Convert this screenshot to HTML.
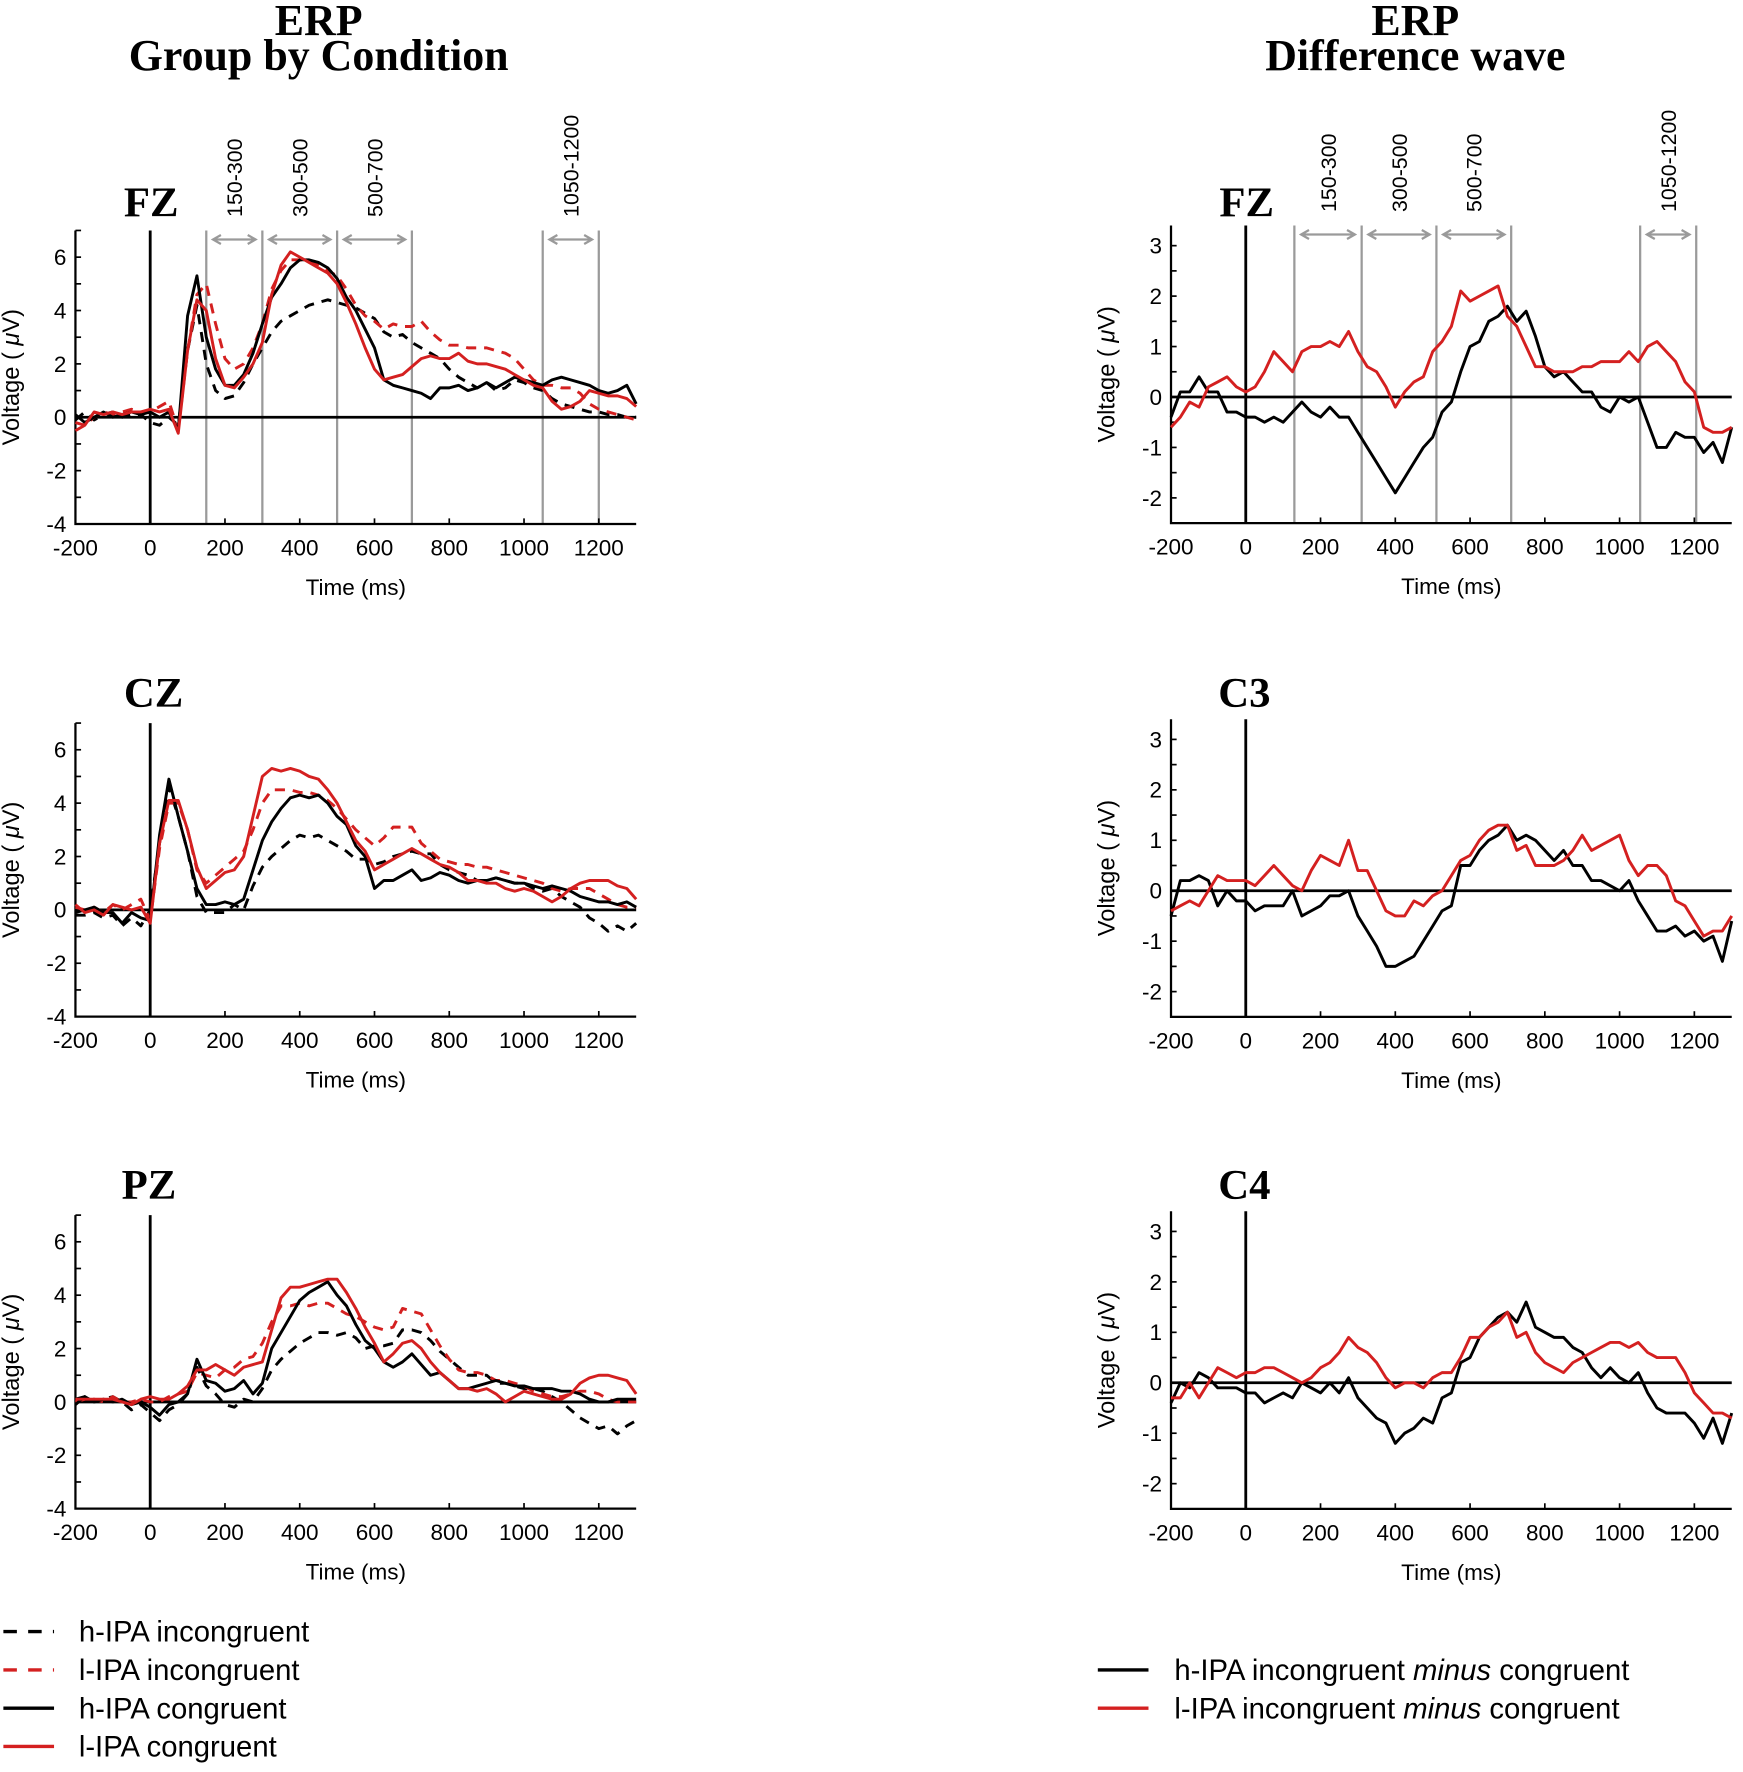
<!DOCTYPE html>
<html><head><meta charset="utf-8"><style>
html,body{margin:0;padding:0;background:#fff}
svg{display:block}
text{font-family:"Liberation Sans",sans-serif}
.serif{font-family:"Liberation Serif",serif;font-weight:bold}
</style></head><body>
<svg id="fig" width="1743" height="1772" viewBox="0 0 1548 1573.6" xmlns="http://www.w3.org/2000/svg">
<text class="serif" x="283" y="31" font-size="39" text-anchor="middle">ERP</text>
<text class="serif" x="283" y="62" font-size="39" text-anchor="middle">Group by Condition</text>
<text class="serif" x="1257" y="31" font-size="39" text-anchor="middle">ERP</text>
<text class="serif" x="1257" y="62" font-size="39" text-anchor="middle">Difference wave</text>
<g id="plots"></g>
<g>
<line x1="3" x2="48" y1="1449" y2="1449" stroke="#000" stroke-width="3" stroke-dasharray="12,10"/>
<text x="70" y="1458" font-size="26">h-IPA incongruent</text>
<line x1="3" x2="48" y1="1483" y2="1483" stroke="#d42020" stroke-width="3" stroke-dasharray="12,10"/>
<text x="70" y="1492" font-size="26">l-IPA incongruent</text>
<line x1="3" x2="48" y1="1517" y2="1517" stroke="#000" stroke-width="3"/>
<text x="70" y="1526" font-size="26">h-IPA congruent</text>
<line x1="3" x2="48" y1="1551" y2="1551" stroke="#d42020" stroke-width="3"/>
<text x="70" y="1560" font-size="26">l-IPA congruent</text>
</g>
<g>
<line x1="975" x2="1020" y1="1483" y2="1483" stroke="#000" stroke-width="3"/>
<text x="1043" y="1492" font-size="26">h-IPA incongruent <tspan font-style="italic">minus</tspan> congruent</text>
<line x1="975" x2="1020" y1="1517" y2="1517" stroke="#d42020" stroke-width="3"/>
<text x="1043" y="1526" font-size="26">l-IPA incongruent <tspan font-style="italic">minus</tspan> congruent</text>
</g>
</svg>
<script>
const T0 = -200, DT = 25;
const windows = ["150-300","300-500","500-700","1050-1200"];
const fzHInc=[-0.1,0.2,-0.1,0.1,0.2,0,0.1,0.1,-0.2,-0.3,0,-0.3,2.5,4.2,2,1,0.7,0.8,1.3,2,2.6,3.2,3.6,3.8,4,4.2,4.3,4.4,4.3,4.2,4.1,3.9,3.7,3.2,3,3.1,2.8,2.6,2.4,2.2,1.8,1.5,1.3,1.1,1.3,1.0,1.1,1.4,1.3,1.1,1.0,0.7,0.5,0.4,0.3,0.2,0.2,0.1,0.1,0,0];
const fzLInc=[-0.5,-0.3,0,0.2,0.1,0.2,0.3,0.2,0.2,0.4,0.6,-0.5,2.5,4.6,5,3.5,2.2,1.8,2,2.6,3.5,4.8,5.5,5.9,5.9,5.8,5.7,5.5,5.3,4.8,4.2,3.8,3.6,3.3,3.5,3.4,3.4,3.6,3.2,2.9,2.7,2.7,2.6,2.6,2.6,2.5,2.4,2.2,1.8,1.4,1.2,1.2,1.1,1.1,0.9,0.5,0.3,0.2,0.1,0,-0.1];
const fzHCon=[0.1,-0.2,0,0.2,0,0.1,0.2,0.1,0.2,0,0.2,-0.5,3.8,5.3,3,1.8,1.2,1.2,1.6,2.4,3.5,4.5,5.0,5.6,5.9,5.9,5.8,5.6,5.2,4.5,4.0,3.3,2.6,1.4,1.2,1.1,1.0,0.9,0.7,1.1,1.1,1.2,1.0,1.1,1.3,1.1,1.3,1.5,1.4,1.3,1.2,1.4,1.5,1.4,1.3,1.2,1.0,0.9,1.0,1.2,0.5];
const fzLCon=[-0.2,-0.3,0.2,0.1,0.2,0.1,0.2,0.2,0.3,0.2,0.3,-0.6,2.5,4.4,4,2.2,1.2,1.1,1.5,2.0,2.8,4.6,5.7,6.2,6.0,5.8,5.6,5.4,5.0,4.3,3.5,2.6,1.8,1.4,1.5,1.6,1.9,2.2,2.3,2.2,2.2,2.4,2.1,2.0,2.0,1.9,1.8,1.6,1.4,1.2,1.1,0.6,0.3,0.4,0.6,1.0,0.9,0.8,0.8,0.7,0.4];
const czHInc=[-0.2,-0.2,-0.1,-0.3,-0.2,-0.6,-0.3,-0.6,0,2.5,4.6,3.5,2.2,0.5,-0.1,-0.1,-0.1,0.2,0.0,0.9,1.6,2.0,2.3,2.6,2.8,2.7,2.8,2.6,2.4,2.2,1.9,1.9,1.7,1.8,2.0,2.1,2.2,2.1,2.1,1.7,1.5,1.4,1.3,1.1,1.1,1.2,1.1,1.0,1.0,0.8,0.7,0.8,0.5,0.3,0.1,-0.3,-0.5,-0.8,-0.6,-0.8,-0.5];
const czLInc=[0.1,0,0.1,-0.1,0.2,0,0.2,0.4,-0.4,2.3,4.0,4.0,3.0,1.5,1.0,1.3,1.6,1.9,2.2,3.0,4.0,4.5,4.5,4.5,4.4,4.4,4.3,4.1,3.8,3.4,3.0,2.7,2.4,2.7,3.1,3.1,3.1,2.5,2.2,1.9,1.8,1.7,1.7,1.6,1.6,1.5,1.4,1.3,1.2,1.1,1.0,0.8,0.7,0.8,0.8,0.8,0.6,0.4,0.2,0.1,0.1];
const czHCon=[-0.1,0,0.1,-0.1,-0.1,-0.5,-0.1,-0.3,-0.4,2.8,4.9,3.5,2.2,0.8,0.2,0.2,0.3,0.2,0.4,1.5,2.6,3.3,3.8,4.2,4.3,4.2,4.3,4.0,3.5,3.2,2.4,2.0,0.8,1.1,1.1,1.3,1.5,1.1,1.2,1.4,1.3,1.1,1.0,1.1,1.1,1.2,1.1,1.0,1.0,0.9,0.8,0.9,0.8,0.7,0.5,0.4,0.3,0.3,0.2,0.3,0.1];
const czLCon=[0.2,-0.1,0,-0.2,0.2,0.1,0,0.1,-0.5,2.5,4.1,4.1,3.0,1.6,0.8,1.1,1.4,1.5,2.0,3.5,5.0,5.3,5.2,5.3,5.2,5.0,4.9,4.5,4.0,3.3,2.6,2.2,1.5,1.7,1.9,2.1,2.3,2.1,1.9,1.7,1.6,1.4,1.1,1.1,1.0,1.0,0.8,0.7,0.8,0.7,0.5,0.3,0.5,0.8,1.0,1.1,1.1,1.1,0.9,0.8,0.4];
const pzHInc=[0.1,0.2,0,0.1,0.2,0,-0.3,-0.1,-0.4,-0.7,-0.3,-0.1,0.3,1.3,0.6,0.3,-0.1,-0.2,0.1,0.0,0.5,1.2,1.6,1.9,2.2,2.4,2.6,2.6,2.5,2.6,2.4,2.0,2.1,2.1,2.2,2.7,2.7,2.6,2.3,1.9,1.6,1.3,1.0,1.0,1.0,0.7,0.7,0.6,0.5,0.5,0.4,0.2,0,-0.3,-0.6,-0.8,-1.0,-0.9,-1.2,-0.9,-0.7];
const pzLInc=[0,0.1,0.1,0,0.2,0,0,0.1,0,0,0.2,0.3,0.4,1.1,1.0,0.9,1.2,1.3,1.6,1.7,2.2,3.0,3.6,3.6,3.7,3.6,3.7,3.7,3.5,3.3,3.2,3.0,2.8,2.7,2.8,3.5,3.4,3.3,2.7,2.1,1.6,1.2,1.1,1.1,1.0,0.8,0.8,0.7,0.6,0.4,0.3,0.2,0.2,0.3,0.4,0.4,0.3,0.1,0,0,0];
const pzHCon=[-0.1,0.2,0,0.1,0,0.1,-0.1,0,-0.2,-0.5,-0.1,0,0.3,1.6,0.8,0.7,0.4,0.5,0.8,0.3,0.7,2.0,2.6,3.2,3.8,4.1,4.3,4.5,4.0,3.6,2.9,2.3,2.0,1.5,1.3,1.5,1.8,1.4,1.0,1.1,0.8,0.5,0.5,0.6,0.7,0.8,0.7,0.6,0.6,0.5,0.5,0.5,0.4,0.4,0.3,0.1,0,0,0.1,0.1,0.1];
const pzLCon=[0.1,0.1,0.1,0.1,0.1,0,-0.1,0.1,0.2,0.1,0.1,0.3,0.6,1.2,1.2,1.4,1.2,1.0,1.3,1.4,1.5,2.7,3.9,4.3,4.3,4.4,4.5,4.6,4.6,4.1,3.5,2.8,2.2,1.5,1.8,2.2,2.3,2.0,1.5,1.1,0.8,0.5,0.5,0.4,0.5,0.3,0.0,0.2,0.4,0.3,0.2,0.1,0.1,0.3,0.7,0.9,1.0,1.0,0.9,0.8,0.3];
const dfzH=[-0.4,0.1,0.1,0.4,0.1,0.1,-0.3,-0.3,-0.4,-0.4,-0.5,-0.4,-0.5,-0.3,-0.1,-0.3,-0.4,-0.2,-0.4,-0.4,-0.7,-1.0,-1.3,-1.6,-1.9,-1.6,-1.3,-1.0,-0.8,-0.3,-0.1,0.5,1.0,1.1,1.5,1.6,1.8,1.5,1.7,1.2,0.6,0.4,0.5,0.3,0.1,0.1,-0.2,-0.3,0,-0.1,0,-0.5,-1.0,-1.0,-0.7,-0.8,-0.8,-1.1,-0.9,-1.3,-0.6];
const dfzL=[-0.6,-0.4,-0.1,-0.2,0.2,0.3,0.4,0.2,0.1,0.2,0.5,0.9,0.7,0.5,0.9,1.0,1.0,1.1,1.0,1.3,0.9,0.6,0.5,0.2,-0.2,0.1,0.3,0.4,0.9,1.1,1.4,2.1,1.9,2.0,2.1,2.2,1.6,1.4,1.0,0.6,0.6,0.5,0.5,0.5,0.6,0.6,0.7,0.7,0.7,0.9,0.7,1.0,1.1,0.9,0.7,0.3,0.1,-0.6,-0.7,-0.7,-0.6];
const dc3H=[-0.5,0.2,0.2,0.3,0.2,-0.3,0,-0.2,-0.2,-0.4,-0.3,-0.3,-0.3,0,-0.5,-0.4,-0.3,-0.1,-0.1,0,-0.5,-0.8,-1.1,-1.5,-1.5,-1.4,-1.3,-1.0,-0.7,-0.4,-0.3,0.5,0.5,0.8,1.0,1.1,1.3,1.0,1.1,1.0,0.8,0.6,0.8,0.5,0.5,0.2,0.2,0.1,0,0.2,-0.2,-0.5,-0.8,-0.8,-0.7,-0.9,-0.8,-1.0,-0.9,-1.4,-0.6];
const dc3L=[-0.4,-0.3,-0.2,-0.3,0,0.3,0.2,0.2,0.2,0.1,0.3,0.5,0.3,0.1,0,0.4,0.7,0.6,0.5,1.0,0.4,0.4,0,-0.4,-0.5,-0.5,-0.2,-0.3,-0.1,0,0.3,0.6,0.7,1.0,1.2,1.3,1.3,0.8,0.9,0.5,0.5,0.5,0.6,0.8,1.1,0.8,0.9,1.0,1.1,0.6,0.3,0.5,0.5,0.3,-0.2,-0.3,-0.6,-0.9,-0.8,-0.8,-0.5];
const dc4H=[-0.4,0,-0.1,0.2,0.1,-0.1,-0.1,-0.1,-0.2,-0.2,-0.4,-0.3,-0.2,-0.3,0,-0.1,-0.2,0,-0.2,0.1,-0.3,-0.5,-0.7,-0.8,-1.2,-1.0,-0.9,-0.7,-0.8,-0.3,-0.2,0.4,0.5,0.9,1.1,1.3,1.4,1.2,1.6,1.1,1.0,0.9,0.9,0.7,0.6,0.3,0.1,0.3,0.1,0,0.2,-0.2,-0.5,-0.6,-0.6,-0.6,-0.8,-1.1,-0.7,-1.2,-0.6];
const dc4L=[-0.3,-0.3,0,-0.3,0,0.3,0.2,0.1,0.2,0.2,0.3,0.3,0.2,0.1,0,0.1,0.3,0.4,0.6,0.9,0.7,0.6,0.4,0.1,-0.1,0,0,-0.1,0.1,0.2,0.2,0.5,0.9,0.9,1.1,1.2,1.4,0.9,1.0,0.6,0.4,0.3,0.2,0.4,0.5,0.6,0.7,0.8,0.8,0.7,0.8,0.6,0.5,0.5,0.5,0.2,-0.2,-0.4,-0.6,-0.6,-0.7];
const xTicks=[-200,0,200,400,600,800,1000,1200];
const leftYTicks=[-4,-2,0,2,4,6];
const rightYTicks=[-2,-1,0,1,2,3];

const NS="http://www.w3.org/2000/svg";
const root=document.getElementById('plots');
const RED="#d42020";
function mk(tag,attrs,parent){const e=document.createElementNS(NS,tag);for(const k in attrs)e.setAttribute(k,attrs[k]);(parent||root).appendChild(e);return e;}

function panel(cfg){
  const g=mk('g',{});
  
  
  const xs=v=>cfg.x0+(v-(-200))*(cfg.x1-cfg.x0)/1500;
  const ys=v=>cfg.yZero-v*cfg.unit;
  const top=ys(cfg.ymax), bot=ys(cfg.ymin);
  if(cfg.win){
    cfg.win.forEach(w=>{const l=mk('line',{x1:xs(w),x2:xs(w),y1:top,y2:bot,stroke:'#9a9a9a','stroke-width':2},g);
      });
    cfg.pairs.forEach((p,i)=>{
      const xa=xs(p[0])+6, xb=xs(p[1])-6, yy=top+8;
      const ar=mk('path',{d:`M${xa} ${yy}H${xb}M${xa+7} ${yy-4}L${xa} ${yy}L${xa+7} ${yy+4}M${xb-7} ${yy-4}L${xb} ${yy}L${xb-7} ${yy+4}`,stroke:'#9a9a9a','stroke-width':2,fill:'none'},g);
      
      const cx=(xs(p[0])+xs(p[1]))/2+7;
      const t=mk('text',{x:0,y:0,'font-size':19,transform:`translate(${cx},${top-12}) rotate(-90)`},g);
      t.textContent=windows[i];
      
    });
  }
  const ax=mk('path',{d:`M${cfg.x0} ${top}V${bot}H${cfg.x1}`,stroke:'#000','stroke-width':2,fill:'none'},g);
  
  for(let v=cfg.ymin;v<=cfg.ymax+1e-9;v+=cfg.minor){mk('line',{x1:cfg.x0,x2:cfg.x0+5,y1:ys(v),y2:ys(v),stroke:'#000','stroke-width':1.5},g);}
  cfg.yt.forEach(v=>{const t=mk('text',{x:cfg.x0-8,y:ys(v)+7,'font-size':20,'text-anchor':'end'},g);t.textContent=v;
    });
  xTicks.forEach(v=>{mk('line',{x1:xs(v),x2:xs(v),y1:bot,y2:bot-5,stroke:'#000','stroke-width':1.5},g);
    const t=mk('text',{x:xs(v),y:bot+28,'font-size':20,'text-anchor':'middle'},g);t.textContent=v;
    });
  const xt=mk('text',{x:(cfg.x0+cfg.x1)/2,y:bot+63,'font-size':20,'text-anchor':'middle'},g);xt.textContent='Time (ms)';
  
  const yt=mk('text',{x:0,y:0,'font-size':21,'text-anchor':'middle',transform:`translate(${cfg.x0-50},${(top+bot)/2}) rotate(-90)`},g);
  yt.innerHTML='Voltage ( <tspan font-style="italic">μ</tspan>V)';
  
  const lb=mk('text',{x:cfg.lx,y:cfg.ly,'font-size':38,class:'serif'},g);lb.textContent=cfg.label;
  
  mk('line',{x1:cfg.x0,x2:cfg.x1,y1:ys(0),y2:ys(0),stroke:'#000','stroke-width':2.5},g);
  mk('line',{x1:xs(0),x2:xs(0),y1:top,y2:bot,stroke:'#000','stroke-width':2.5},g);
  cfg.series.forEach(s=>{
    const pts=s.data.map((v,i)=>xs(T0+i*DT).toFixed(1)+','+ys(v).toFixed(1)).join(' ');
    const p=mk('polyline',{points:pts,fill:'none',stroke:s.color,'stroke-width':2.6,'stroke-linejoin':'round'},g);
    if(s.dash)p.setAttribute('stroke-dasharray','9,7');
    
    
  });
}
const leftBase={x0:67,x1:565,unit:23.7,ymin:-4,ymax:7,minor:1,yt:leftYTicks};
const rightBase={x0:1040,x1:1538,unit:44.8,ymin:-2.5,ymax:3.4,minor:0.5,yt:rightYTicks};
const lpairs=[[150,300],[300,500],[500,700],[1050,1200]];
function lser(a,b,c,d){return[{data:a,color:'#000',dash:true,name:'h-ipa-incongruent-line'},{data:b,color:RED,dash:true,name:'l-ipa-incongruent-line'},{data:c,color:'#000',name:'h-ipa-congruent-line'},{data:d,color:RED,name:'l-ipa-congruent-line'}];}
function rser(a,b){return[{data:a,color:'#000',name:'h-ipa-difference-line'},{data:b,color:RED,name:'l-ipa-difference-line'}];}
panel(Object.assign({},leftBase,{name:'fz-group-panel',yZero:370.5,label:'FZ',lx:110,ly:192,win:[150,300,500,700,1050,1200],pairs:lpairs,series:lser(fzHInc,fzLInc,fzHCon,fzLCon)}));
panel(Object.assign({},leftBase,{name:'cz-group-panel',yZero:808,label:'CZ',lx:110,ly:628,series:lser(czHInc,czLInc,czHCon,czLCon)}));
panel(Object.assign({},leftBase,{name:'pz-group-panel',yZero:1245,label:'PZ',lx:108,ly:1065,series:lser(pzHInc,pzLInc,pzHCon,pzLCon)}));
panel(Object.assign({},rightBase,{name:'fz-difference-panel',yZero:352.5,label:'FZ',lx:1083,ly:192,win:[130,310,510,710,1055,1205],pairs:[[130,310],[310,510],[510,710],[1055,1205]],series:rser(dfzH,dfzL)}));
panel(Object.assign({},rightBase,{name:'c3-difference-panel',yZero:791,label:'C3',lx:1082,ly:628,series:rser(dc3H,dc3L)}));
panel(Object.assign({},rightBase,{name:'c4-difference-panel',yZero:1228,label:'C4',lx:1082,ly:1065,series:rser(dc4H,dc4L)}));
</script>
</body></html>
